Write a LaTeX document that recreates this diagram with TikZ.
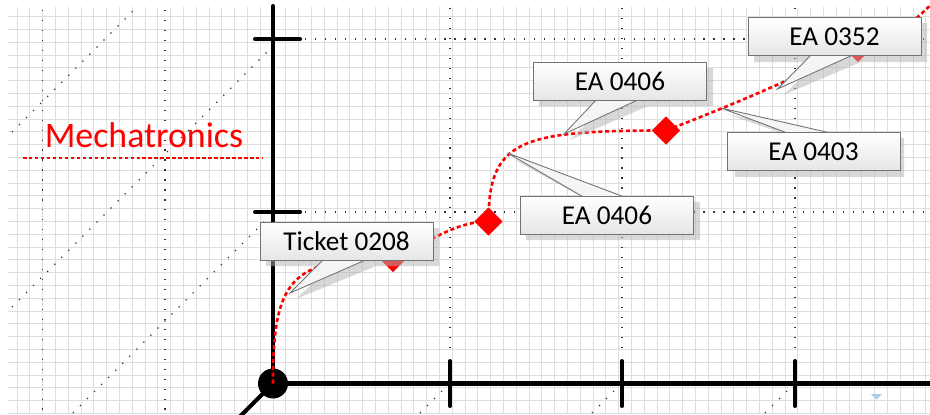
\documentclass[tikz,border=0pt]{standalone}
\usepackage{fontspec}
\setmainfont{Carlito}
\usetikzlibrary{shapes.geometric}

\definecolor{cuecolor}{HTML}{A8CBF0}

\tikzset{
    gridline/.style={black!13,line width=0.5pt},
    guideline/.style={black!80,line width=0.7pt,dash pattern=on 0.7pt off 4.97pt},
    axisline/.style={line width=2.3pt,line cap=round},
    trail/.style={red,line width=1.5pt,dash pattern=on 2.3pt off 1.6pt},
    milestone/.style={diamond,fill=red,inner sep=0pt,minimum size=0.57cm},
    callout/.style={draw=black!55,line width=0.55pt,top color=white,bottom color=black!10,minimum width=3.46cm,minimum height=0.76cm,inner sep=0pt,text=black,font=\fontsize{15.5pt}{18pt}\selectfont},
    pointer/.style={draw=black!55,fill=black!4,line width=0.5pt},
    callshadow/.style={fill=black!30,opacity=0.5}
}

\begin{document}
\begin{tikzpicture}[x=0.02cm,y=-0.02cm]
    \useasboundingbox (0,0) rectangle (930,414);
    \clip (0,0) rectangle (930,414);

    % grid
    \foreach \k in {-20,...,51}
        \draw[gridline] ({273+12.8*\k},7) -- ({273+12.8*\k},414);
    \foreach \k in {-3,...,28}
        \draw[gridline] (8,{375-12.8*\k}) -- (930,{375-12.8*\k});

    % dotted guides
    \draw[guideline] (42.5,10) -- (42.5,414);
    \draw[guideline] (165,10) -- (165,414);
    \foreach \gx in {450,622,795}
        \draw[guideline] (\gx,8) -- (\gx,356);
    \draw[guideline] (305,39) -- (930,39);
    \draw[guideline] (305,212) -- (930,212);
    \draw[guideline] (12,132) -- (133,11);
    \draw[guideline] (12,307) -- (268,51);
    \draw[guideline] (73,413) -- (268,218);
    \foreach \gx in {450,622,795}
        \draw[guideline] (\gx-30,413) -- (\gx-3,386);

    % axes
    \coordinate (origin) at (273,383.5);
    \draw[axisline] (273,6) -- (origin) -- (930,383.5);
    \draw[axisline] (origin) -- (220,436.5);
    \fill (origin) circle (15);
    \draw[axisline] (255,39) -- (300,39);
    \draw[axisline] (255,212) -- (300,212);
    \foreach \gx in {450,622,795}
        \draw[axisline] (\gx,361) -- (\gx,406);

    % Mechatronics
    \node[red,anchor=base,font=\fontsize{20.4pt}{24pt}\selectfont] (mech) at (144,147) {Mechatronics};
    \draw[red,line width=1.1pt,dash pattern=on 2pt off 1.4pt] (23,158) -- (263,158);

    % red trail
    \coordinate (ms1) at (393,258);
    \coordinate (ms2) at (488.5,221.5);
    \coordinate (ms3) at (666,130.5);
    \coordinate (ms4) at (858,48);
    \draw[trail] (origin) .. controls (273,280) and (290,258) .. (ms1)
        .. controls (430,242) and (455,221.5) .. (ms2)
        .. controls (488.5,140) and (520,130.5) .. (ms3)
        .. controls (730,106) and (790,80) .. (ms4)
        .. controls (895,36) and (912,26) .. (945,-10);
    \foreach \m in {ms1,ms2,ms3,ms4}
        \node[milestone] at (\m) {};

    % callouts
    \fill[callshadow] (266,228) rectangle (439,266) (331,266) -- (296,299) -- (376,266) -- cycle;
    \filldraw[pointer] (325,258) -- (290,293) -- (370,258) -- cycle;
    \node[callout] (ticket0208) at (346.5,241) {Ticket 0208};

    \fill[callshadow] (539,68) rectangle (713,106) (604,106) -- (570,140) -- (648,106) -- cycle;
    \filldraw[pointer] (598,98) -- (564,134) -- (642,98) -- cycle;
    \node[callout] (ea0406a) at (620,81) {EA 0406};

    \fill[callshadow] (526,202) rectangle (700,240) (591,202) -- (513.5,159) -- (633,202) -- cycle;
    \filldraw[pointer] (585,198) -- (507.5,153) -- (627,198) -- cycle;
    \node[callout] (ea0406b) at (607,215) {EA 0406};

    \fill[callshadow] (735,138) rectangle (904,177) (796,138) -- (727,114) -- (841,138) -- cycle;
    \filldraw[pointer] (790,134) -- (721,108) -- (835,134) -- cycle;
    \node[callout] (ea0403) at (813.5,151.5) {EA 0403};

    \fill[callshadow] (754,23) rectangle (927,62) (818,62) -- (783.5,95) -- (861,62) -- cycle;
    \filldraw[pointer] (812,54) -- (777.5,89) -- (855,54) -- cycle;
    \node[callout] (ea0352) at (834.5,36.5) {EA 0352};

    \fill[cuecolor] (871,394) -- (882,394) -- (876.5,399.5) -- cycle;
\end{tikzpicture}
\end{document}
